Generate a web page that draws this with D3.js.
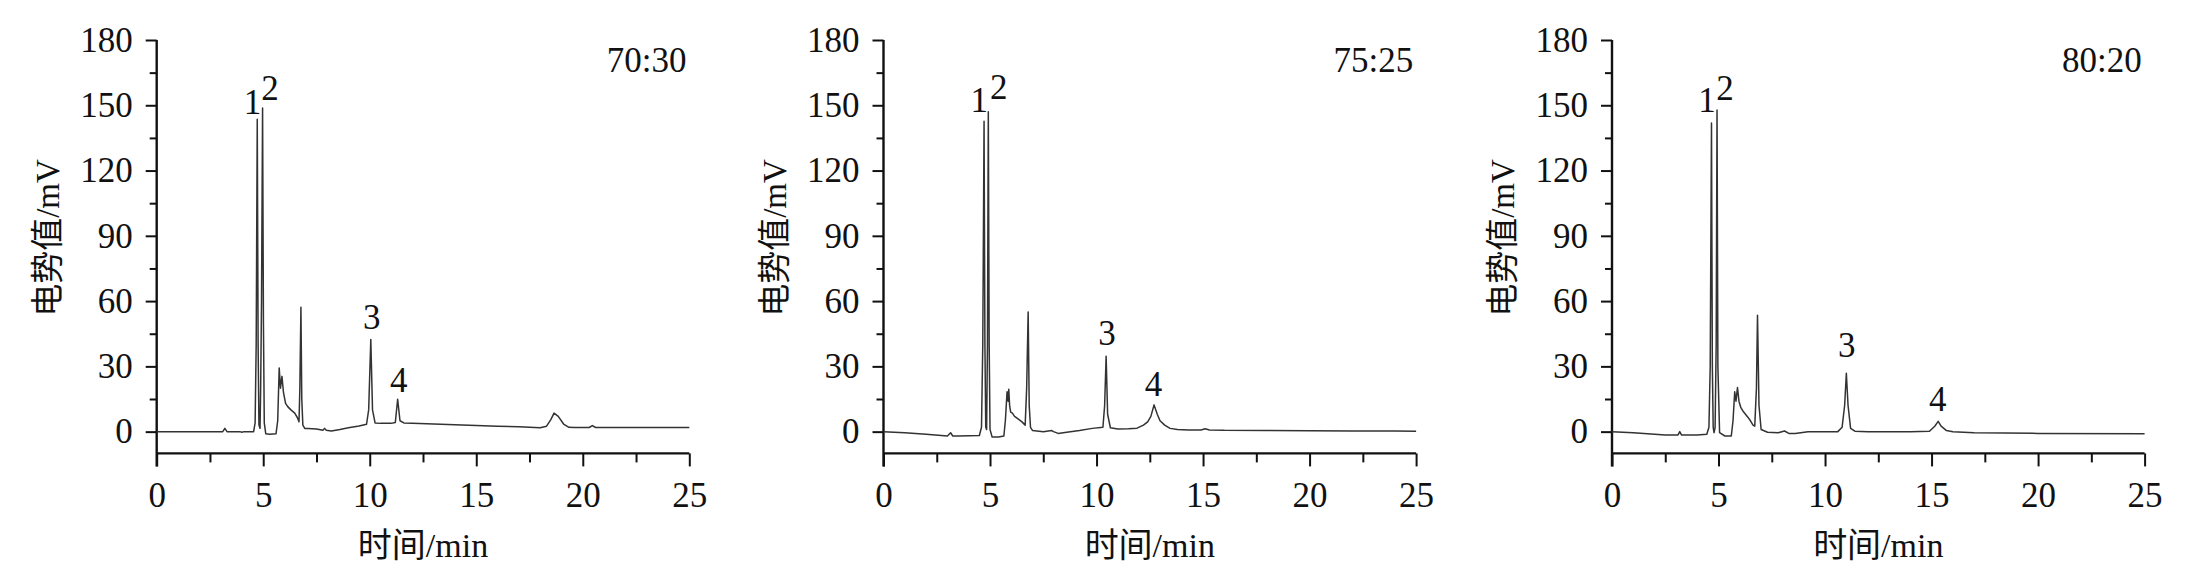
<!DOCTYPE html>
<html><head><meta charset="utf-8">
<script src="https://cdn.jsdelivr.net/npm/d3@7"></script>
<style>body{margin:0;background:#fff}
svg text{font-family:"Liberation Serif","Times New Roman","DejaVu Serif",serif;}
</style>
</head><body><svg id="c" width="2212" height="579"></svg>
<script>
// ---------- data ----------
const ratios = ["70:30", "75:25", "80:20"];
const xTicks = [0, 5, 10, 15, 20, 25];
const xMinor = [2.5, 7.5, 12.5, 17.5, 22.5];
const yTicks = [0, 30, 60, 90, 120, 150, 180];
const yMinor = [15, 45, 75, 105, 135, 165];
const peakNames = ["1", "2", "3", "4"];

// 70:30
const t1 = [0,1,2,3.1,3.2,3.3,3.9,4.0,4.1,4.55,4.62,4.67,4.72,4.76,4.80,4.85,4.88,4.92,4.97,5.01,5.05,5.12,5.3,5.6,5.68,5.75,5.81,5.88,5.95,6.05,6.15,6.3,6.48,6.6,6.68,6.72,6.77,6.81,6.86,6.95,7.1,7.5,7.8,7.88,7.96,8.2,8.6,9.0,9.5,9.85,9.95,10.05,10.13,10.25,10.5,11.0,11.2,11.31,11.42,11.6,12,13,14,15,16,17,18,18.3,18.5,18.65,18.85,19.1,19.35,19.6,20.3,20.45,20.6,22,23,25];
const v1 = [0,0,0,0,1.5,0,0,-0.3,0,0,4,40,143.6,40,3,1.5,20,60,148.7,50,4,-1,-1.2,-1,5,29.3,20,25.4,18,13,11.5,10,8.5,6.5,4.5,20,57.2,15,3,1.5,1.4,1.2,0.6,1.5,0.6,0.3,1.0,1.8,2.6,3.4,10,42.3,10,4,3.8,3.8,4.2,14.9,5,4,3.8,3.5,3.2,2.8,2.5,2.2,1.8,2.5,5.5,8.5,7,3.5,2,1.9,1.9,2.8,1.9,1.9,1.9,1.9];
// 75:25
const t2 = [0,1,2,3.0,3.15,3.25,3.5,4.0,4.5,4.6,4.66,4.72,4.76,4.80,4.84,4.88,4.92,4.96,5.0,5.1,5.4,5.65,5.72,5.8,5.85,5.88,5.92,5.97,6.05,6.15,6.3,6.5,6.65,6.72,6.79,6.84,6.9,7.0,7.5,7.9,7.98,8.2,8.6,9.2,9.8,10.3,10.38,10.45,10.52,10.65,11.0,11.5,11.9,12.2,12.4,12.55,12.7,12.85,12.98,13.2,13.45,13.8,14.3,14.9,15.1,15.3,16,18,20,22,24,25];
const v2 = [0,-0.5,-1.2,-2,-0.5,-2,-2,-1.9,-1.8,2,40,142.7,40,2,1,40,147,40,1,-2.5,-2.5,-2,5,18.3,14,19.5,12,9,8.5,7,6,4.5,3,20,55,12,2,0.5,0,0.5,0,-0.8,-0.3,0.5,1.5,2,12,34.7,8,1.8,1.2,1.3,1.6,3,4.5,7,12.3,8,5,3,1.5,1,0.8,0.8,1.3,0.8,0.6,0.5,0.4,0.3,0.3,0.2];
// 80:20
const t3 = [0,1,2,2.5,3.1,3.18,3.26,4.0,4.45,4.55,4.61,4.67,4.71,4.75,4.79,4.84,4.89,4.93,4.97,5.05,5.3,5.6,5.68,5.76,5.82,5.89,5.96,6.05,6.18,6.35,6.5,6.62,6.7,6.78,6.83,6.9,7.0,7.3,7.8,8.1,8.3,8.6,9.2,10.0,10.6,10.8,10.92,11.0,11.08,11.2,11.4,12,13,14,14.9,15.15,15.31,15.45,15.7,16,17,20,25];
const v3 = [0,-0.5,-1.2,-1.5,-1.5,0,-1.5,-1.5,-1.2,2,30,141.9,30,2,-0.5,2,40,147.8,30,-0.5,-2,-2,5,18.3,14,20.3,14,11,9,7,5,3,2.5,20,53.5,12,1,-0.3,-0.5,0.3,-0.8,-0.8,0,0,0,2,12,26.8,12,1.5,0.2,0,0,0,0.2,2.5,4.7,2.5,0.5,0,-0.5,-0.8,-1];

// peak label anchors (data units)
const labT1 = [4.50, 5.32, 10.09, 11.36], labV1 = [151.5, 157.5, 52.3, 23.5];
const labT2 = [4.50, 5.41, 10.49, 12.67], labV2 = [152.4, 158.0, 45.0, 21.8];
const labT3 = [4.46, 5.31, 11.02, 15.29], labV3 = [152.4, 157.6, 39.6, 15.0];
const ratioT = 23.0, ratioV = 170.7;

const series = [
  {t: t1, v: v1, lt: labT1, lv: labV1},
  {t: t2, v: v2, lt: labT2, lv: labV2},
  {t: t3, v: v3, lt: labT3, lv: labV3}
];

// ---------- layout ----------
const panelLeft = [156.7, 883.5, 1612];
const plotW = 532.6, yTop = 40, yBot = 453.4;
const serif = '"Liberation Serif","Times New Roman","DejaVu Serif",serif';
const cjk = '"Liberation Serif","Noto Sans CJK SC",serif';
const ink = "#111";
const fs = "35px";

const svg = d3.select("#c");

series.forEach((s, i) => {
  const g = svg.append("g").attr("transform", `translate(${panelLeft[i]},0)`);
  const x = d3.scaleLinear().domain([0, 25]).range([0, plotW]);
  const y = d3.scaleLinear().domain([-10, 180]).range([yBot, yTop]);

  const gx = g.append("g").attr("transform", `translate(0,${yBot})`)
    .call(d3.axisBottom(x).tickValues(xTicks).tickSize(13).tickPadding(16).tickFormat(d3.format("d")));
  gx.select(".domain").remove();
  const gxm = g.append("g").attr("transform", `translate(0,${yBot})`)
    .call(d3.axisBottom(x).tickValues(xMinor).tickSize(9).tickFormat(""));
  gxm.select(".domain").remove();

  const gy = g.append("g")
    .call(d3.axisLeft(y).tickValues(yTicks).tickSize(11).tickPadding(13).tickFormat(d3.format("d")));
  gy.select(".domain").remove();
  const gym = g.append("g")
    .call(d3.axisLeft(y).tickValues(yMinor).tickSize(7).tickFormat(""));
  gym.select(".domain").remove();

  [gx, gxm, gy, gym].forEach(a => {
    a.attr("font-family", null).attr("font-size", null);
    a.selectAll("line").attr("stroke", ink).attr("stroke-width", 2);
    a.selectAll("text").attr("fill", ink).style("font-family", serif).style("font-size", fs);
  });

  g.append("line").attr("x1", x(0)).attr("x2", x(25)).attr("y1", yBot).attr("y2", yBot)
    .attr("stroke", ink).attr("stroke-width", 2.4);
  g.append("line").attr("x1", x(0)).attr("x2", x(0)).attr("y1", y(180)).attr("y2", yBot + 13)
    .attr("stroke", ink).attr("stroke-width", 2.4);

  const pts = s.t.map((tt, k) => [tt, s.v[k]]);
  g.append("path").datum(pts)
    .attr("fill", "none").attr("stroke", "#333").attr("stroke-width", 1.5)
    .attr("stroke-linejoin", "round")
    .attr("d", d3.line().x(d => x(d[0])).y(d => y(d[1])));

  peakNames.forEach((n, k) => {
    g.append("text").attr("x", x(s.lt[k])).attr("y", y(s.lv[k]))
      .attr("text-anchor", "middle").attr("dominant-baseline", "central")
      .attr("fill", ink).style("font-family", serif).style("font-size", fs).text(n);
  });

  g.append("text").attr("x", x(ratioT)).attr("y", y(ratioV))
    .attr("text-anchor", "middle").attr("dominant-baseline", "central")
    .attr("fill", ink).style("font-family", serif).style("font-size", fs).text(ratios[i]);

  g.append("text").attr("x", x(12.5)).attr("y", 545)
    .attr("text-anchor", "middle").attr("dominant-baseline", "central")
    .attr("fill", ink).style("font-family", cjk).style("font-size", "34px").text("时间/min");
  g.append("text").attr("transform", `translate(${48 - 156.7},238) rotate(-90)`)
    .attr("text-anchor", "middle").attr("dominant-baseline", "central")
    .attr("fill", ink).style("font-family", cjk).style("font-size", "33px").text("电势值/mV");
});
</script></body></html>
